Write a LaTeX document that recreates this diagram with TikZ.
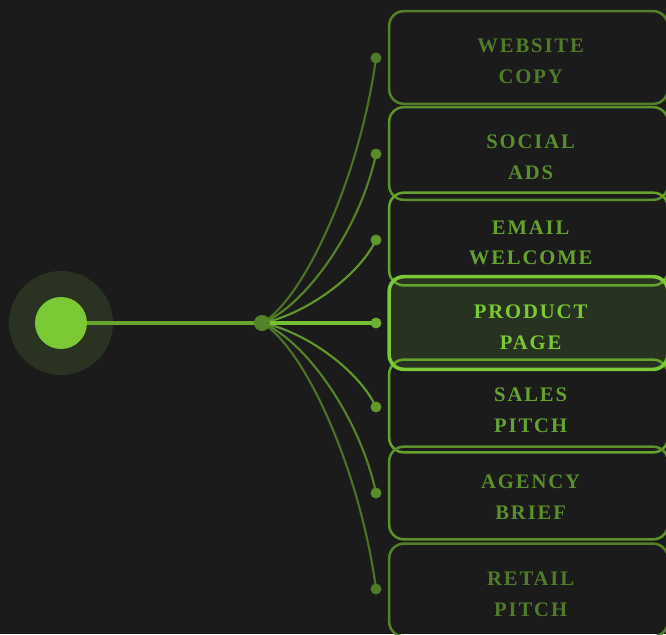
\documentclass[tikz,border=0pt]{standalone}
\usepackage{fontspec}
\setmainfont{Liberation Serif}
\newfontfamily\boxfont[LetterSpace=9]{Liberation Serif}
\definecolor{bg}{HTML}{1B1B1B}
\definecolor{lime}{HTML}{7BC934}
\definecolor{halo}{HTML}{2A3322}
\definecolor{pfill}{HTML}{273221}
\tikzset{
  x=0.75pt, y=-0.75pt,
  card/.style={draw=lime, line width=1.9pt, rounded corners=11pt, fill=none,
    minimum width=209pt, minimum height=69.5pt, inner sep=0pt},
  lbl/.style={font=\boxfont\bfseries\fontsize{15.5}{23}\selectfont, align=center,
    xshift=1.6pt, yshift=-3pt},
  hot/.style={card, line width=2.7pt},
  dot/.style={circle, fill=lime, minimum size=8.2pt, inner sep=0pt},
  hubdot/.style={circle, fill=lime!60!bg, minimum size=12pt, inner sep=0pt},
  fan/.style={draw=lime, line width=1.6pt},
}
\begin{document}
\begin{tikzpicture}
\fill[bg] (0,0) rectangle (666,634);
\useasboundingbox (0,0) rectangle (666,634);
% center
\node[circle, fill=halo, minimum size=78pt, inner sep=0pt] (halo) at (61,323) {};
\node[circle, fill=lime, minimum size=39pt, inner sep=0pt] (core) at (61,323) {};
\coordinate (hub) at (262,323);
\coordinate (d1) at (376,58);
\coordinate (d2) at (376,154);
\coordinate (d3) at (376,240);
\coordinate (d4) at (376,323);
\coordinate (d5) at (376,407);
\coordinate (d6) at (376,493);
\coordinate (d7) at (376,589);
% connectors
\draw[draw=lime!80!bg, line width=2.3pt] (core.east) -- (hub);
\draw[fan, draw=lime!50!bg] (hub) .. controls +(42,-24) and +(-16,119) .. (d1);
\draw[fan, draw=lime!60!bg] (hub) .. controls +(42,-16) and +(-16,76) .. (d2);
\draw[fan, draw=lime!72!bg] (hub) .. controls +(42,-8) and +(-18,37) .. (d3);
\draw[fan, draw=lime!72!bg] (hub) .. controls +(42,8) and +(-18,-38) .. (d5);
\draw[fan, draw=lime!60!bg] (hub) .. controls +(42,16) and +(-16,-76) .. (d6);
\draw[fan, draw=lime!50!bg] (hub) .. controls +(42,24) and +(-16,-120) .. (d7);
\draw[draw=lime!95!bg, line width=2.3pt] (hub) -- (d4);
\node[hubdot] (hubn) at (hub) {};
\foreach \n/\c in {d1/55,d2/65,d3/72,d4/85,d5/72,d6/65,d7/55}
  \node[dot, fill=lime!\c!bg] (\n n) at (\n) {};
% cards
\fill[pfill, rounded corners=11pt] (389.5,276.5) rectangle (667.5,369.5);
\node[card, draw=lime!58!bg, label={[lbl, text=lime!55!bg]center:WEBSITE\\COPY}] (b1) at (528.5,57.5) {};
\node[card, draw=lime!68!bg, label={[lbl, text=lime!66!bg]center:SOCIAL\\ADS}] (b2) at (528.5,153.5) {};
\node[card, draw=lime!78!bg, label={[lbl, text=lime!78!bg]center:EMAIL\\WELCOME}] (b3) at (528.5,239) {};
\node[card, draw=lime!78!bg, label={[lbl, text=lime!78!bg]center:SALES\\PITCH}] (b5) at (528.5,406) {};
\node[card, draw=lime!68!bg, label={[lbl, text=lime!66!bg]center:AGENCY\\BRIEF}] (b6) at (528.5,493) {};
\node[card, draw=lime!58!bg, label={[lbl, text=lime!55!bg]center:RETAIL\\PITCH}] (b7) at (528.5,590) {};
\node[hot, label={[lbl, text=lime]center:PRODUCT\\PAGE}] (b4) at (528.5,323) {};
\end{tikzpicture}
\end{document}
